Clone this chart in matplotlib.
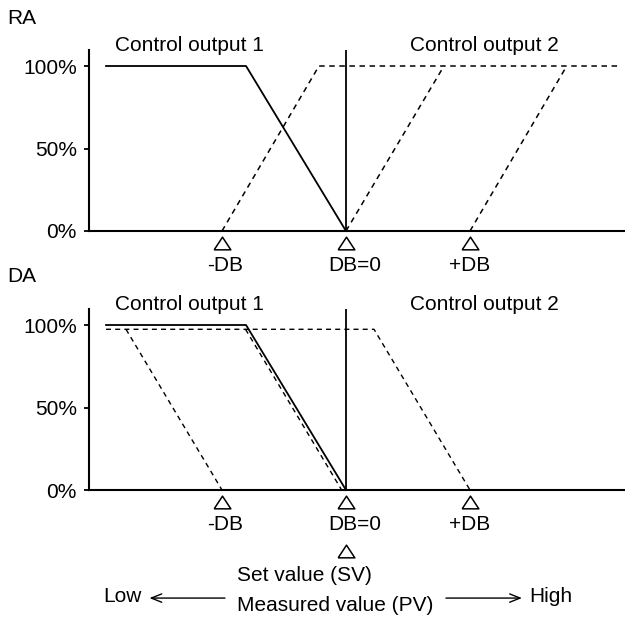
import matplotlib
matplotlib.use('Agg')
import matplotlib.pyplot as plt

plt.rcParams['font.family'] = ['Liberation Sans', 'DejaVu Sans']

# ---- data (x in dead-band units, DB=0 at 0; y in % output) ----
ref_marks = [-1, 0, 1]
ref_labels = ['-DB', 'DB=0', '+DB']
ref_label_x = [-0.976, 0.073, 1.0]
yticks = [0, 50, 100]
yticklabels = ['0%', '50%', '100%']

ra_out1_x = [-1.935, -0.806, 0]
ra_out1_y = [100, 100, 0]
ra_out2_lines = [
    ([-1.0, -0.218, 2.19], [0, 100, 100]),
    ([0.0, 0.79], [0, 100]),
    ([1.0, 1.78], [0, 100]),
]

da_out1_x = [-1.935, -0.806, 0]
da_out1_y = [100, 100, 0]
da_dashed_lines = [
    ([-1.935, 0.226, 1.0], [97.4, 97.4, 0]),
    ([-1.774, -1.0], [97.4, 0]),
    ([-0.81, -0.035], [97.4, 0]),
]

panel_labels = ['RA', 'DA']
out_labels = ['Control output 1', 'Control output 2']
out_label_x = [-1.266, 1.113]

FS = 15
tri = [(-1, -0.76), (1, -0.76), (0, 0.76), (-1, -0.76)]

fig = plt.figure(figsize=(6.25, 6.19), dpi=100)
left = 88.8 / 625
width = 1 - left
h = 181 / 619
ax_top = fig.add_axes([left, 1 - 231 / 619, width, h])
ax_bot = fig.add_axes([left, 1 - 490 / 619, width, h])


def style(ax):
    ax.set_xlim(-2.074, 2.25)
    ax.set_ylim(0, 109.7)
    for s in ['top', 'right']:
        ax.spines[s].set_visible(False)
    for s in ['left', 'bottom']:
        ax.spines[s].set_linewidth(1.5)
    ax.set_xticks([])
    ax.set_yticks(yticks)
    ax.set_yticklabels(yticklabels, fontsize=FS)
    ax.tick_params(axis='y', direction='out', length=3.5, width=1.3, pad=5)
    ax.axvline(0, color='k', lw=1.3)
    ax.plot(ref_marks, [-7.3] * len(ref_marks), linestyle='none', marker=tri,
            ms=12, mfc='white', mec='k', mew=1.1, clip_on=False, zorder=5)
    for x, lab in zip(ref_label_x, ref_labels):
        ax.text(x, -21.2, lab, ha='center', va='center', fontsize=FS)
    for x, lab in zip(out_label_x, out_labels):
        ax.text(x, 112.7, lab, ha='center', va='center', fontsize=FS)


style(ax_top)
style(ax_bot)

dash = (0, (3.6, 3.0))

ax_top.plot(ra_out1_x, ra_out1_y, color='k', lw=1.3, clip_on=False)
for xs, ys in ra_out2_lines:
    ax_top.plot(xs, ys, color='k', lw=1.1, linestyle=dash, clip_on=False)

ax_bot.plot(da_out1_x, da_out1_y, color='k', lw=1.3, clip_on=False)
for xs, ys in da_dashed_lines:
    ax_bot.plot(xs, ys, color='k', lw=1.0, linestyle=dash, clip_on=False)

# set value marker and bottom annotation
ax_bot.plot([0], [-37], linestyle='none', marker=tri, ms=12, mfc='white',
            mec='k', mew=1.1, clip_on=False, zorder=5)
ax_bot.text(-0.88, -52.1, 'Set value (SV)', ha='left', va='center', fontsize=FS)
ax_bot.text(-0.88, -69.7, 'Measured value (PV)', ha='left', va='center', fontsize=FS)
ax_bot.text(-1.96, -64.8, 'Low', ha='left', va='center', fontsize=FS)
ax_bot.text(1.476, -64.8, 'High', ha='left', va='center', fontsize=FS)
ap = dict(arrowstyle='->,head_length=0.75,head_width=0.3', lw=1.0, color='k',
          shrinkA=0, shrinkB=0, mutation_scale=10)
ax_bot.annotate('', xy=(-1.585, -65.5), xytext=(-0.976, -65.5),
                arrowprops=ap, annotation_clip=False)
ax_bot.annotate('', xy=(1.419, -65.5), xytext=(0.806, -65.5),
                arrowprops=ap, annotation_clip=False)

fig.text(7 / 625, 1 - 19 / 619, panel_labels[0], ha='left', va='center', fontsize=FS)
fig.text(7 / 625, 1 - 277 / 619, panel_labels[1], ha='left', va='center', fontsize=FS)

fig.savefig('out.png', dpi=100)
